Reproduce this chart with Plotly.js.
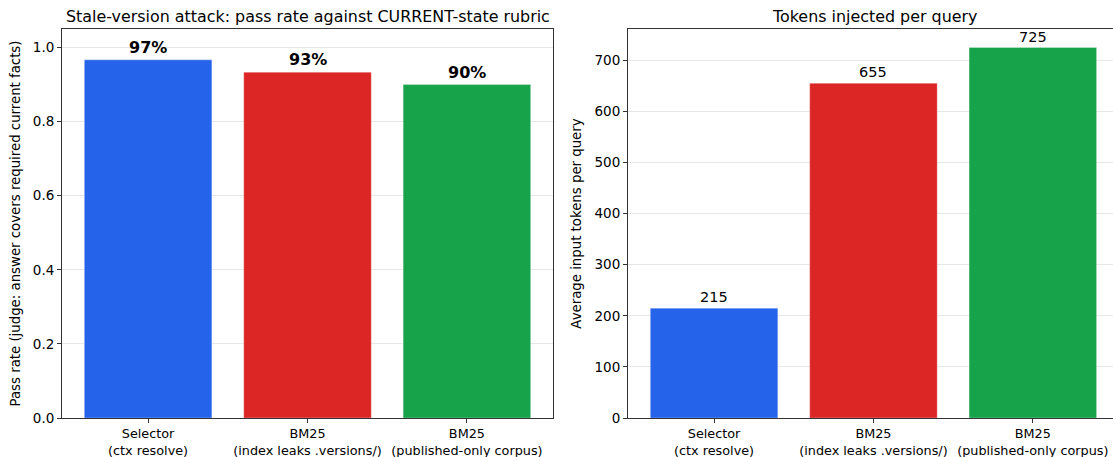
<!DOCTYPE html>
<html><head><meta charset="utf-8">
<script src="https://cdn.plot.ly/plotly-3.0.1.min.js"></script>
<style>html,body{margin:0;padding:0;background:#fff}#c{width:1113px;height:457px}</style>
</head><body><div id="c"></div>
<script>
const categories = ["Selector<br>(ctx resolve)", "BM25<br>(index leaks .versions/)", "BM25<br>(published-only corpus)"];
const passRate = [0.9667, 0.9333, 0.9];
const passLabels = ["97%", "93%", "90%"];
const tokens = [215, 655, 725];
const tokenLabels = ["215", "655", "725"];
const colors = ["#2563eb", "#dc2626", "#16a34a"];

const idx = categories.map((_, i) => i);
const W = 1113, H = 457;
const font = "DejaVu Sans, sans-serif";

const traces = [
  {type: "bar", x: idx, y: passRate, marker: {color: colors, line: {color: "rgba(255,255,255,0.6)", width: 0.5}}, width: 0.8, xaxis: "x", yaxis: "y", hoverinfo: "skip"},
  {type: "bar", x: idx, y: tokens, marker: {color: colors, line: {color: "rgba(255,255,255,0.6)", width: 0.5}}, width: 0.8, xaxis: "x2", yaxis: "y2", hoverinfo: "skip"}
];

const annotations = [];
idx.forEach(i => {
  annotations.push({x: i, y: passRate[i], xref: "x", yref: "y", text: "<b>" + passLabels[i] + "</b>", showarrow: false, yanchor: "bottom", yshift: 1, font: {size: 16, color: "#000", family: font}});
  annotations.push({x: i, y: tokens[i], xref: "x2", yref: "y2", text: tokenLabels[i], showarrow: false, yanchor: "bottom", yshift: 1, font: {size: 14.5, color: "#000", family: font}});
});
annotations.push({text: "Stale-version attack: pass rate against CURRENT-state rubric", xref: "paper", yref: "paper", x: (62+553)/2/W, y: 1 - 16.5/H, xanchor: "center", yanchor: "middle", showarrow: false, font: {size: 15.9, color: "#000", family: font}});
annotations.push({text: "Tokens injected per query", xref: "paper", yref: "paper", x: 874/W, y: 1 - 16.5/H, xanchor: "center", yanchor: "middle", showarrow: false, font: {size: 15.9, color: "#000", family: font}});

const yd = [1 - 418/H, 1 - 29/H];
const axCommon = {showline: true, linecolor: "#333", linewidth: 1, ticks: "outside", ticklen: 4, tickcolor: "#333", tickfont: {size: 13.5, color: "#000", family: font}, zeroline: false};
const xTickFont = {size: 12.8, color: "#000", family: font};

const layout = {
  width: W, height: H,
  margin: {l: 0, r: 0, t: 0, b: 0},
  paper_bgcolor: "#fff", plot_bgcolor: "#fff",
  showlegend: false,
  font: {family: font, color: "#000"},
  xaxis: Object.assign({}, axCommon, {domain: [62/W, 553/W], range: [-0.54, 2.54], tickvals: idx, ticktext: categories, tickangle: 0, tickfont: xTickFont, ticklen: 3.5, mirror: true, showgrid: false, anchor: "y"}),
  yaxis: Object.assign({}, axCommon, {domain: yd, range: [0, 1.05], dtick: 0.2, tickformat: ".1f", mirror: true, showgrid: true, gridcolor: "rgba(176,176,176,0.3)", gridwidth: 1, anchor: "x",
    title: {text: "Pass rate (judge: answer covers required current facts)", font: {size: 13.3, color: "#000", family: font}, standoff: 9}}),
  xaxis2: Object.assign({}, axCommon, {domain: [628/W, 1], range: [-0.54, 2.503], tickvals: idx, ticktext: categories, tickangle: 0, tickfont: xTickFont, ticklen: 3.5, mirror: true, showgrid: false, anchor: "y2"}),
  yaxis2: Object.assign({}, axCommon, {domain: yd, range: [0, 761.25], dtick: 100, showgrid: true, gridcolor: "rgba(176,176,176,0.3)", gridwidth: 1, anchor: "x2",
    title: {text: "Average input tokens per query", font: {size: 13.3, color: "#000", family: font}, standoff: 9}}),
  annotations: annotations,
  bargap: 0
};

Plotly.newPlot("c", traces, layout, {displayModeBar: false, staticPlot: true});
</script></body></html>
